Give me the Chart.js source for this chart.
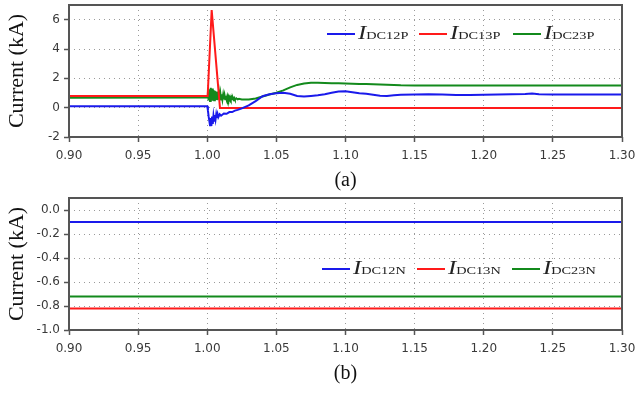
<!DOCTYPE html>
<html>
<head>
<meta charset="utf-8">
<script src="https://cdn.jsdelivr.net/npm/chart.js@4/dist/chart.umd.min.js"></script>
<style>
  body { margin: 0; background: #fff; width: 635px; height: 393px; position: relative; overflow: hidden; }
  canvas { position: absolute; left: 0; }
  #cA { top: 0; }
  #cB { top: 193px; }
  .item { position: absolute; height: 24px; display: flex; align-items: center; font-family: "Liberation Serif", serif; color: #222; white-space: nowrap; }
  .swatch { width: 28px; height: 2px; margin-right: 3px; }
  .txt { display: inline-block; transform: scaleX(1.3); transform-origin: left center; line-height: 24px; }
  .big { font-style: italic; font-size: 19px; }
  .sub { font-size: 11px; }
</style>
</head>
<body>
<canvas id="cA" width="635" height="193"></canvas>
<canvas id="cB" width="635" height="200"></canvas>
<div id="legA"></div>
<div id="legB"></div>
<script>
// (a) positive pole currents (kA)
const tBlueA = [0.900, 1.000, 1.0005, 1.0010, 1.0015, 1.0020, 1.0025, 1.0030, 1.0035, 1.0040, 1.0045,
  1.0050, 1.0055, 1.0060, 1.0065, 1.0070, 1.0075, 1.0080, 1.009, 1.010, 1.012, 1.014, 1.016, 1.018,
  1.020, 1.022, 1.025, 1.030, 1.035, 1.040, 1.045, 1.050, 1.055, 1.060, 1.065, 1.070, 1.075, 1.080,
  1.085, 1.090, 1.095, 1.100, 1.105, 1.110, 1.115, 1.120, 1.125, 1.130, 1.135, 1.140, 1.150, 1.160,
  1.170, 1.180, 1.190, 1.200, 1.210, 1.220, 1.230, 1.235, 1.240, 1.250, 1.270, 1.300];
const iBlueA = [0.10, 0.10, -0.20, -0.60, -0.90, -1.20, -0.70, -1.25, -0.60, -1.10, -0.55,
  -0.90, -0.50, -0.80, -0.45, -0.70, -0.45, -0.65, -0.45, -0.55, -0.40, -0.42, -0.30, -0.30,
  -0.20, -0.15, -0.05, 0.15, 0.45, 0.78, 0.92, 0.98, 1.02, 0.95, 0.80, 0.76, 0.80, 0.85,
  0.92, 1.02, 1.10, 1.12, 1.05, 0.98, 0.95, 0.88, 0.82, 0.80, 0.84, 0.88, 0.90, 0.92,
  0.90, 0.86, 0.86, 0.88, 0.90, 0.92, 0.93, 0.96, 0.92, 0.90, 0.90, 0.90];

const tRedA = [0.900, 1.0003, 1.0032, 1.0092, 1.300];
const iRedA = [0.80, 0.80, 6.65, -0.03, -0.03];

const tGreenA = [0.900, 1.0000, 1.0005, 1.0010, 1.0015, 1.0020, 1.0025, 1.0030, 1.0035, 1.0040,
  1.0045, 1.0050, 1.0055, 1.0060, 1.0065, 1.0070, 1.0075, 1.0080, 1.0085, 1.0090, 1.0095,
  1.0100, 1.0105, 1.0110, 1.0115, 1.0120, 1.0125, 1.0130, 1.0135, 1.0140, 1.0145, 1.0150,
  1.0155, 1.0160, 1.0165, 1.0170, 1.0175, 1.0180, 1.0185, 1.0190, 1.0195, 1.0200, 1.0210,
  1.0220, 1.0230, 1.0250, 1.030, 1.035, 1.040, 1.045, 1.050, 1.055, 1.060, 1.065, 1.070,
  1.075, 1.080, 1.085, 1.090, 1.095, 1.100, 1.105, 1.110, 1.115, 1.120, 1.125, 1.130, 1.135,
  1.140, 1.150, 1.300];
const iGreenA = [0.68, 0.70, 1.05, 0.50, 1.25, 0.45, 1.35, 0.50, 1.30, 0.48,
  1.20, 0.50, 1.15, 0.52, 1.10, 0.52, 1.05, 0.55, 1.00, 0.55, 0.95,
  0.56, 0.92, 0.57, 0.88, 0.57, 0.85, 0.58, 0.82, 0.58, 0.78, 0.58,
  0.75, 0.58, 0.72, 0.58, 0.70, 0.57, 0.68, 0.57, 0.66, 0.56, 0.64,
  0.56, 0.60, 0.56, 0.55, 0.62, 0.76, 0.90, 1.02, 1.18, 1.38, 1.55, 1.65,
  1.70, 1.70, 1.68, 1.66, 1.66, 1.65, 1.63, 1.62, 1.62, 1.60, 1.58, 1.56, 1.54,
  1.52, 1.51, 1.51];

// (b) negative pole currents (kA)
const tB = [0.90, 1.30];
const iBlueB = [-0.10, -0.10];
const iRedB = [-0.82, -0.82];
const iGreenB = [-0.72, -0.72];

const xTicks = [0.90, 0.95, 1.00, 1.05, 1.10, 1.15, 1.20, 1.25, 1.30];
const yTicksA = [-2, 0, 2, 4, 6];
const yTicksB = [-1.0, -0.8, -0.6, -0.4, -0.2, 0.0];
const namesA = ['DC12P', 'DC13P', 'DC23P'];
const namesB = ['DC12N', 'DC13N', 'DC23N'];
const colors = ['#1a1aeb', '#ff1a1a', '#138a1c'];

const pts = (t, v) => t.map((x, i) => ({ x: x, y: v[i] }));

const boxPlugin = {
  id: 'box',
  afterDraw(chart) {
    const { ctx, chartArea: a } = chart;
    ctx.save();
    ctx.strokeStyle = '#555';
    ctx.lineWidth = 2;
    ctx.strokeRect(a.left, a.top, a.right - a.left, a.bottom - a.top);
    ctx.restore();
  }
};

function makeChart(id, series, yMin, yMax, yTicks, yFmt, caption, xHeight, titlePad) {
  return new Chart(document.getElementById(id), {
    type: 'line',
    data: {
      datasets: series.map((s, i) => ({
        label: s.name,
        data: pts(s.t, s.v),
        borderColor: colors[i],
        borderWidth: 2,
        pointRadius: 0,
        tension: 0,
        fill: false
      }))
    },
    options: {
      responsive: false,
      animation: false,
      devicePixelRatio: 1,
      layout: { padding: { top: 5, right: 13, left: 0, bottom: 0 } },
      plugins: { legend: { display: false }, tooltip: { enabled: false } },
      scales: {
        x: {
          type: 'linear',
          min: 0.90,
          max: 1.30,
          afterBuildTicks: s => { s.ticks = xTicks.map(v => ({ value: v })); },
          afterFit: s => { s.height = xHeight; s.paddingLeft = 0; s.paddingRight = 0; },
          ticks: {
            callback: v => v.toFixed(2),
            font: { family: 'DejaVu Sans', size: 12 },
            color: '#3a3a3a',
            padding: 7,
            maxRotation: 0
          },
          grid: { color: '#9a9a9a', lineWidth: 1, tickLength: 5, tickColor: '#555', tickWidth: 1.5 },
          border: { display: false, dash: [1, 4] },
          title: {
            display: true,
            text: caption,
            font: { family: 'Liberation Serif', size: 20 },
            color: '#111',
            padding: { top: 0, bottom: titlePad }
          }
        },
        y: {
          min: yMin,
          max: yMax,
          afterBuildTicks: s => { s.ticks = yTicks.map(v => ({ value: v })); },
          afterFit: s => { s.width = 69; s.paddingTop = 0; s.paddingBottom = 0; },
          ticks: {
            callback: yFmt,
            font: { family: 'DejaVu Sans', size: 12 },
            color: '#3a3a3a',
            padding: 4
          },
          grid: { color: '#9a9a9a', lineWidth: 1, tickLength: 5, tickColor: '#555', tickWidth: 1.5 },
          border: { display: false, dash: [1, 4] },
          title: {
            display: true,
            text: 'Current (kA)',
            font: { family: 'Liberation Serif', size: 22 },
            color: '#111',
            padding: { top: 4, bottom: 0 }
          }
        }
      }
    },
    plugins: [boxPlugin]
  });
}

makeChart('cA', [
  { name: namesA[0], t: tBlueA, v: iBlueA },
  { name: namesA[1], t: tRedA, v: iRedA },
  { name: namesA[2], t: tGreenA, v: iGreenA }
], -2, 7, yTicksA, v => String(v), '(a)', 56, 0);

makeChart('cB', [
  { name: namesB[0], t: tB, v: iBlueB },
  { name: namesB[1], t: tB, v: iRedB },
  { name: namesB[2], t: tB, v: iGreenB }
], -1.0, 0.1, yTicksB, v => v.toFixed(1), '(b)', 63, 7);

function legend(holder, names, lefts, top) {
  const el = document.getElementById(holder);
  names.forEach((n, i) => {
    const it = document.createElement('div');
    it.className = 'item';
    it.style.left = lefts[i] + 'px';
    it.style.top = top + 'px';
    it.innerHTML = '<span class="swatch" style="background:' + colors[i] + '"></span>' +
      '<span class="txt"><span class="big">I</span><span class="sub">' + n + '</span></span>';
    el.appendChild(it);
  });
}
legend('legA', namesA, [327, 419, 513], 22);
legend('legB', namesB, [322, 417, 512], 257);
</script>
</body>
</html>
